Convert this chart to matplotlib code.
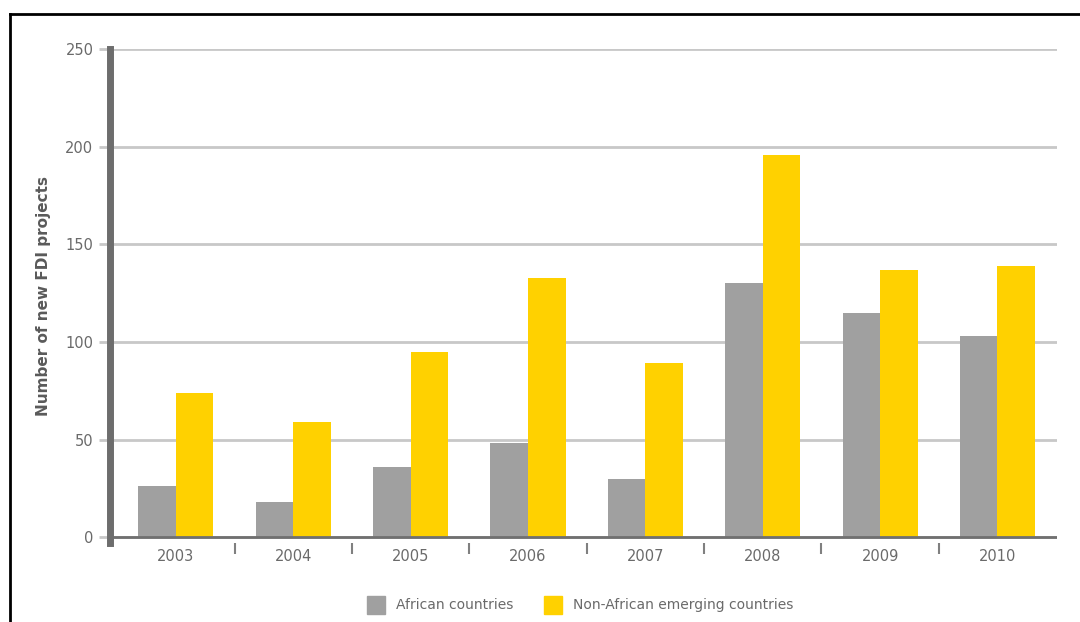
import matplotlib.pyplot as plt
from matplotlib.lines import Line2D
from matplotlib.patches import Patch
import numpy as np

# data
years = ["2003", "2004", "2005", "2006", "2007", "2008", "2009", "2010"]
african = [26, 18, 36, 48, 30, 130, 115, 103]
non_african = [74, 59, 95, 133, 89, 196, 137, 139]

grey = "#a0a0a0"
yellow = "#ffd100"
text_col = "#6a6a6a"

fig = plt.figure(figsize=(10.8, 6.22), dpi=100)
ax = fig.add_axes([0.102, 0.127, 0.877, 0.794])

x = np.arange(len(years))
w = 0.32
ax.bar(x - w / 2, african, width=w, color=grey, label="African countries", zorder=3)
ax.bar(x + w / 2, non_african, width=w, color=yellow,
       label="Non-African emerging countries", zorder=3)

ax.set_xlim(-0.56, 7.51)
ax.set_ylim(-3, 250)

# grid lines and y ticks
ax.set_yticks([0, 50, 100, 150, 200, 250])
ax.yaxis.grid(True, color="#c8c8c8", linewidth=2, zorder=0)
ax.tick_params(axis="y", length=8, width=2, color="#c8c8c8",
               labelcolor=text_col, labelsize=10.5, pad=4)
ax.axhline(0, color="#707070", linewidth=2, zorder=4, xmin=-0.01)

# x ticks: labels at group centres, small marks between groups
ax.set_xticks(x)
ax.set_xticklabels(years)
ax.set_xticks(x[:-1] + 0.5, minor=True)
ax.tick_params(axis="x", which="major", length=0, labelcolor=text_col,
               labelsize=10.5, pad=4)
ax.tick_params(axis="x", which="minor", length=8, width=1.5, color="#808080",
               direction="out")

for s in ["top", "right", "bottom"]:
    ax.spines[s].set_visible(False)
ax.spines["left"].set_color("#6d6d6d")
ax.spines["left"].set_linewidth(5)
ax.spines["left"].set_zorder(5)

ax.set_ylabel("Number of new FDI projects", color="#5a5a5a", fontsize=11,
              fontweight="bold", labelpad=10)

handles = [Patch(color=grey, label="African countries"),
           Patch(color=yellow, label="Non-African emerging countries")]
fig.legend(handles=handles, loc="lower center", ncol=2, frameon=False,
           bbox_to_anchor=(0.537, -0.007), fontsize=10, labelcolor=text_col,
           handlelength=1.3, handleheight=1.6, columnspacing=2.2)

# outer frame (top and left)
fig.add_artist(Line2D([10 / 1080, 1], [1 - 14 / 622, 1 - 14 / 622],
                      color="black", linewidth=2, transform=fig.transFigure))
fig.add_artist(Line2D([10 / 1080, 10 / 1080], [0, 1 - 14 / 622],
                      color="black", linewidth=2, transform=fig.transFigure))

plt.savefig("out.png", dpi=100)
plt.close()
